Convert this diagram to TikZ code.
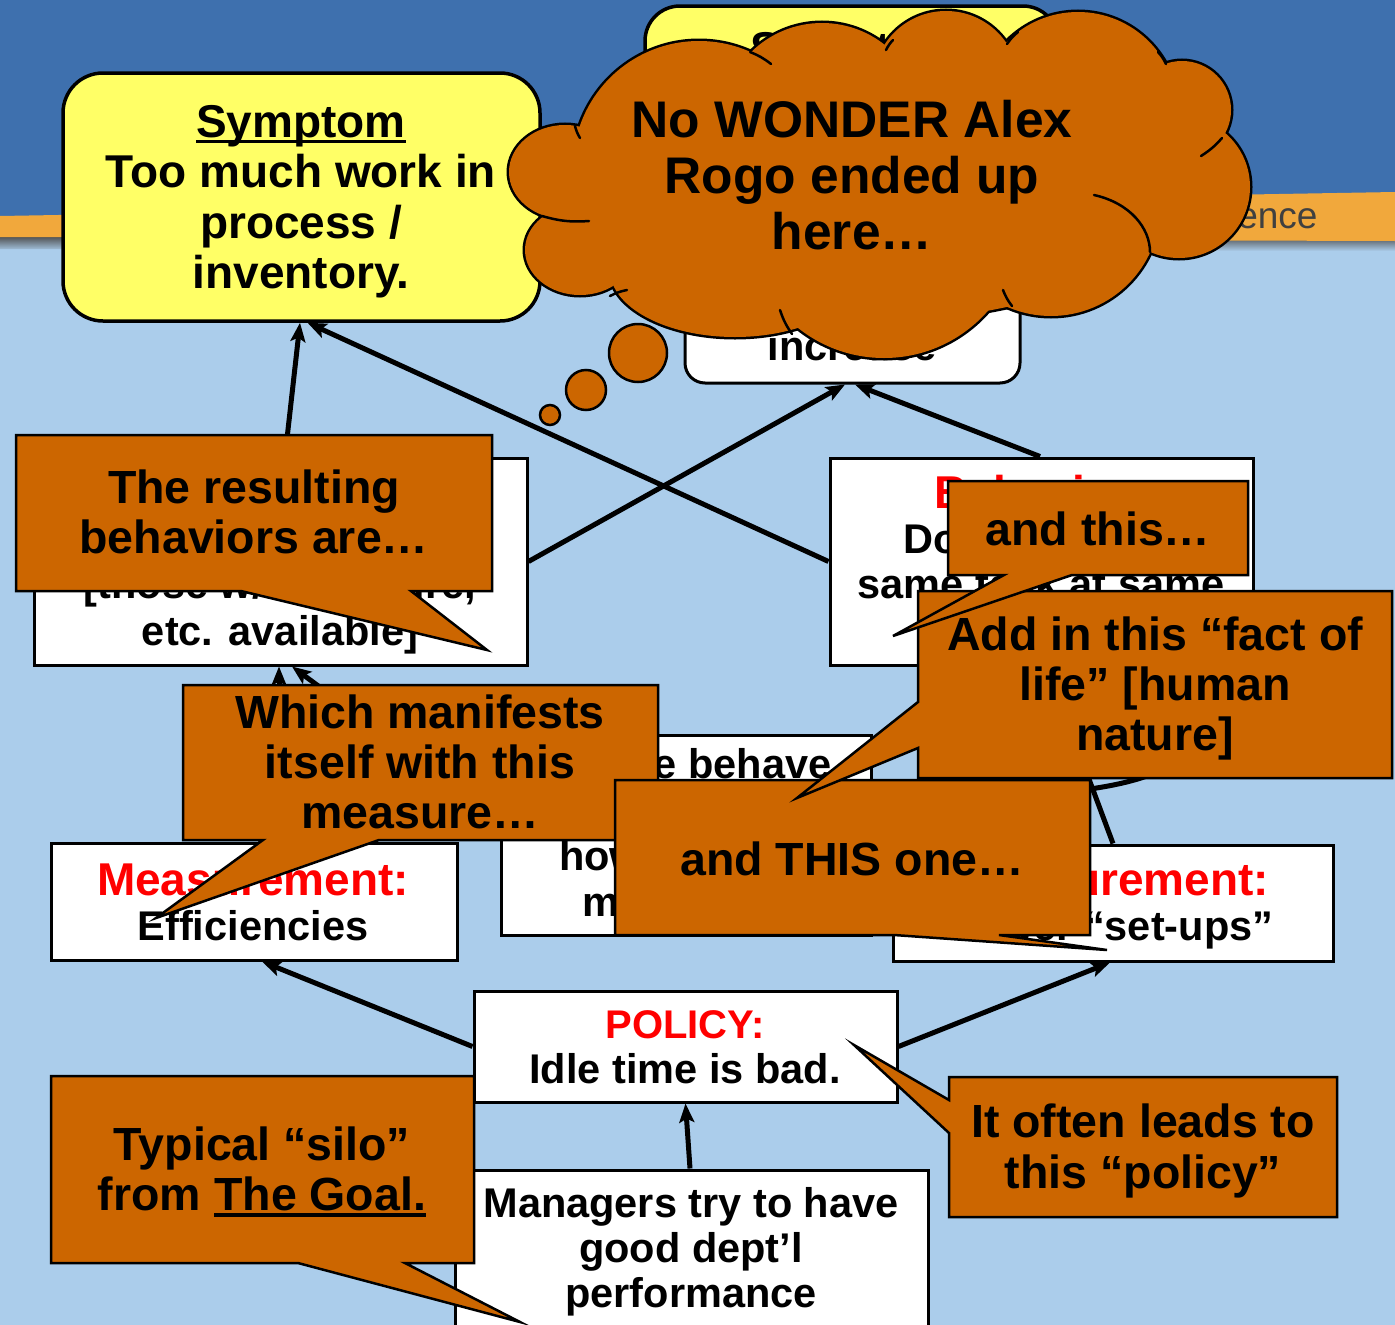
\documentclass[tikz,border=0pt]{standalone}
\usepackage{fontspec}
\setmainfont{Liberation Sans}
\usetikzlibrary{arrows.meta}

\definecolor{skyblue}{RGB}{171,205,235}
\definecolor{bandblue}{RGB}{62,112,174}
\definecolor{bandorange}{RGB}{241,168,60}
\definecolor{callorange}{RGB}{204,102,0}
\definecolor{noteyellow}{RGB}{255,255,102}
\definecolor{hdred}{RGB}{255,0,0}

% font sizes (1pt = 1 unit of the picture)
\newcommand\fCall{\fontsize{46.5}{50}\selectfont\bfseries}
\newcommand\fBody{\fontsize{41.5}{45}\selectfont\bfseries}
\newcommand\fHead{\fontsize{46}{50}\selectfont\bfseries}
\newcommand\fPol{\fontsize{40}{44}\selectfont\bfseries}
\newcommand\fCloud{\fontsize{51.5}{56}\selectfont\bfseries}
\newcommand\fSym{\fontsize{46}{51}\selectfont\bfseries}
% underline that cuts through the descenders
\newsavebox\ulbox
\newcommand\ulx[1]{\sbox\ulbox{#1}\rlap{\rule[-0.14em]{\wd\ulbox}{0.08em}}\usebox\ulbox}

\begin{document}
\begin{tikzpicture}[x=1pt, y=-1pt,
  lbl/.style={anchor=base, inner sep=0pt},
  wbox/.style={draw=black, line width=3pt, fill=white, inner sep=0pt},
  ybox/.style={draw=black, line width=3.5pt, fill=noteyellow, inner sep=0pt, rounded corners=40pt},
  conn/.style={line width=5pt, -{Stealth[length=19pt, width=15pt, inset=4pt]}},
  callout/.style={draw=black, line width=2.5pt, fill=callorange, line join=miter},
  bubble/.style={draw=black, line width=2.5pt, fill=callorange},
  tipline/.style={draw=black, line width=2.5pt, line cap=round},
]
\useasboundingbox (0,0) rectangle (1395,1325);
\clip (0,0) rectangle (1395,1325);

% ---------- slide background ----------
\fill[skyblue] (0,0) rectangle (1395,1325);
\fill[bandblue] (0,0) rectangle (1395,242);
\shade[top color=black!70, bottom color=skyblue] (0,236) -- (1395,240) -- (1395,251) -- (0,249) -- cycle;
\fill[bandorange] (0,216) -- (1395,192) -- (1395,241) -- (0,237) -- cycle;
\node[anchor=base west, inner sep=0pt, text=black!75, font=\fontsize{37}{40}\selectfont] (conf) at (1126,228) {Conference};

% ---------- boxes behind the cloud ----------
\node[ybox, rounded corners=35pt, minimum width=413pt, minimum height=254pt] (sym2) at (851.5,133) {};
\node[lbl, font=\fSym] (sym2t) at (855,64) {\ulx{Symptom}};
\node[wbox, rounded corners=20pt, minimum width=335pt, minimum height=143pt] (incbox) at (852.5,311.5) {};
\node[lbl, font=\fBody] (inct) at (852,360) {increase};

% ---------- symptom box ----------
\node[ybox, minimum width=477pt, minimum height=248pt] (sym) at (301.5,197) {};
\node[lbl, font=\fSym] (s1) at (301,137) {\ulx{Symptom}};
\node[lbl, font=\fSym] (s2) at (301,187) {Too much work in};
\node[lbl, font=\fSym] (s3) at (301,238) {process /};
\node[lbl, font=\fSym] (s4) at (301,288) {inventory.};

% ---------- white boxes ----------
\node[wbox, minimum width=493pt, minimum height=207pt] (lbeh) at (280.5,561.5) {};
\node[lbl, font=\fBody] (lb1) at (280,598) {[those w/ dies, wire,};
\node[lbl, font=\fBody] (lb2) at (280,645) {etc. available]};

\node[wbox, minimum width=423pt, minimum height=207pt] (rbeh) at (1041.5,561.5) {};
\node[lbl, font=\fHead, text=hdred] (rb0) at (1041,508) {Behavior:};
\node[lbl, font=\fBody] (rb1) at (1041,553) {Do batches of};
\node[lbl, font=\fBody] (rb2) at (1041,598) {same task at same};

\node[wbox, minimum width=370pt, minimum height=200pt] (mid) at (686,835) {};
\node[lbl, font=\fBody] (m1) at (686,778) {People behave};
\node[lbl, font=\fBody] (m2) at (686,870) {how they are};
\node[lbl, font=\fBody] (m3) at (686,916) {measured.};

\node[wbox, minimum width=406pt, minimum height=117pt] (effbox) at (254,901.5) {};
\node[lbl, font=\fHead, text=hdred] (e1) at (253,895) {Measurement:};
\node[lbl, font=\fBody] (e2) at (253,940) {Efficiencies};

\node[wbox, minimum width=440pt, minimum height=116pt] (setbox) at (1113,903) {};
\node[lbl, font=\fHead, text=hdred] (u1) at (1113,895) {Measurement:};
\node[lbl, font=\fBody] (u2) at (1113,940) {Fewer “set-ups”};

\node[wbox, minimum width=423pt, minimum height=111pt] (polbox) at (685.5,1046.5) {};
\node[lbl, font=\fPol, text=hdred] (p1) at (685,1038) {POLICY:};
\node[lbl, font=\fBody] (p2) at (685,1083) {Idle time is bad.};

\node[wbox, minimum width=473pt, minimum height=170pt] (mgrbox) at (691.5,1255) {};
\node[lbl, font=\fBody] (g1) at (691,1217) {Managers try to have};
\node[lbl, font=\fBody] (g2) at (691,1262) {good dept’l};
\node[lbl, font=\fBody] (g3) at (691,1307) {performance};

% ---------- connectors ----------
\draw[conn] ([xshift=4.5pt]lbeh.north) -- ([xshift=-1.5pt]sym.south);
\draw[conn] (rbeh.west) -- ([xshift=6pt]sym.south);
\draw[conn] (lbeh.east) -- ([xshift=-7.5pt]incbox.south);
\draw[conn] ([xshift=-1.5pt]rbeh.north) -- ([xshift=2.5pt]incbox.south);
\draw[conn] ([xshift=25pt]effbox.north) -- ([xshift=-1.5pt]lbeh.south);
\draw[conn] ([yshift=15pt]mid.west) -- ([xshift=11.5pt]lbeh.south);
\draw[conn] (setbox.north) -- ([xshift=5.5pt]rbeh.south);
\draw[conn] (polbox.west) -- ([xshift=8pt]effbox.south);
\draw[conn] (polbox.east) -- ([xshift=-3pt]setbox.south);
\draw[conn] ([xshift=-1.5pt]mgrbox.north) -- (polbox.south);
% part of the AND arc across the converging arrows
\draw[line width=5pt] (1083,790) .. controls (1105,787) and (1127,783) .. (1147,776);

% ---------- thought cloud ----------
\def\cloudparts{699/167/126/126, 822/124/101/101, 946/84/73/73, 1078/112/100/100,
  1182/110/49/49, 1179/187/71/71, 1051/207/109/109, 884/220/138/138,
  735/270/125/67, 580/250/55/45, 565/172/56/47, 880/190/290/130}
\foreach \cx/\cy/\rx/\ry in \cloudparts
  \draw[line width=5pt, fill=callorange] (\cx,\cy) ellipse [x radius=\rx, y radius=\ry];
\foreach \cx/\cy/\rx/\ry in \cloudparts
  \fill[callorange] (\cx,\cy) ellipse [x radius=\rx, y radius=\ry];
% short inner arcs where the puffs meet
\draw[tipline] (750,52) to[bend left=8] (771,64);
\draw[tipline] (893,40) to[bend right=8] (886,50);
\draw[tipline] (1018,32) to[bend right=8] (1007,44);
\draw[tipline] (1158,52) to[bend left=8] (1166,64);
\draw[tipline] (1222,138) to[bend left=8] (1201,156);
\draw[tipline] (1094,195) .. controls (1130,203) and (1150,228) .. (1150,252);
\draw[tipline] (1012,306) to[bend left=8] (1003,290);
\draw[tipline] (792,334) to[bend left=8] (780,310);
\draw[tipline] (610,296) to[bend left=8] (627,290);
\draw[tipline] (542,216) to[bend right=10] (589,221);
\draw[tipline] (575,126) to[bend right=8] (580,138);
\node[lbl, font=\fCloud] (c1) at (852,137) {No WONDER Alex};
\node[lbl, font=\fCloud] (c2) at (852,193) {Rogo ended up};
\node[lbl, font=\fCloud] (c3) at (852,249) {here…};
\draw[bubble] (638,353) circle [radius=29];
\draw[bubble] (586,390) circle [radius=20];
\draw[bubble] (550,415) circle [radius=10];

% ---------- callouts ----------
\draw[callout] (16,435) -- (492,435) -- (492,591) -- (411,591) -- (487,650) -- (241,591) -- (16,591) -- cycle;
\node[lbl, font=\fCall] (k1) at (254,503) {The resulting};
\node[lbl, font=\fCall] (k2) at (254,553) {behaviors are…};

\draw[callout] (183,685) -- (658,685) -- (658,840) -- (379,840) -- (156,918) -- (263,840) -- (183,840) -- cycle;
\node[lbl, font=\fCall] (w1) at (420,728) {Which manifests};
\node[lbl, font=\fCall] (w2) at (420,778) {itself with this};
\node[lbl, font=\fCall] (w3) at (420,828) {measure…};

\draw[callout] (615,780) -- (1090,780) -- (1090,935) -- (999,935) -- (1107,950) -- (894,935) -- (615,935) -- cycle;
\node[lbl, font=\fCall] (h1) at (852,875) {and THIS one…};

\draw[callout] (918,591) -- (1392,591) -- (1392,778) -- (918,778) -- (918,748) -- (797,798) -- (918,702) -- cycle;
\node[lbl, font=\fCall] (f1) at (1155,650) {Add in this “fact of};
\node[lbl, font=\fCall] (f2) at (1155,700) {life” [human};
\node[lbl, font=\fCall] (f3) at (1155,750) {nature]};

\draw[callout] (948,481) -- (1248,481) -- (1248,575) -- (1072,575) -- (893,636) -- (1004,575) -- (948,575) -- cycle;
\node[lbl, font=\fCall] (a1) at (1098,545) {and this…};

\draw[callout] (51,1076) -- (474,1076) -- (474,1263) -- (405,1263) -- (520,1322) -- (298,1263) -- (51,1263) -- cycle;
\node[lbl, font=\fCall] (t1) at (262,1160) {Typical “silo”};
\node[lbl, font=\fCall] (t2) at (262,1210) {from \ulx{The Goal.}};

\draw[callout] (949,1077) -- (1337,1077) -- (1337,1217) -- (949,1217) -- (949,1133) -- (854,1045) -- (949,1100) -- cycle;
\node[lbl, font=\fCall] (o1) at (1143,1137) {It often leads to};
\node[lbl, font=\fCall] (o2) at (1143,1188) {this “policy”};
\end{tikzpicture}
\end{document}
